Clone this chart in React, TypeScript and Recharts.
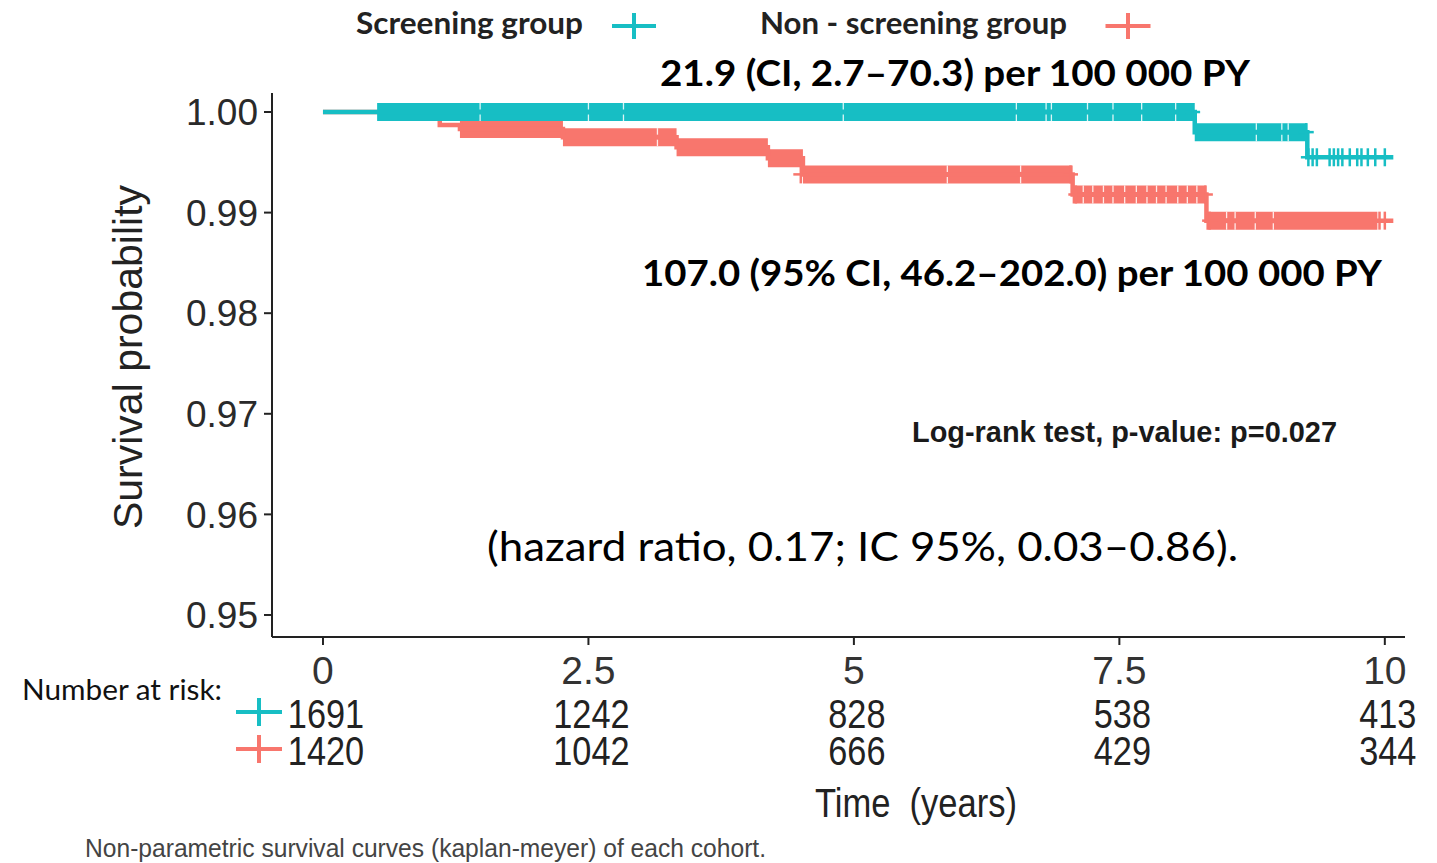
import { ComposedChart, Line, XAxis, YAxis } from 'recharts';

const TEAL = '#17BEC4';
const RED = '#F8766D';
const SANS = "'Liberation Sans', Arial, sans-serif";
const HUMAN = "Lato, 'Open Sans', sans-serif";

// Kaplan-Meier steps: time in years, survival probability
const screeningSteps = [
  { t: 0, s: 1 },
  { t: 8.21, s: 0.998 },
  { t: 9.27, s: 0.9955 },
  { t: 10.08, s: 0.9955 },
];
const nonScreeningSteps = [
  { t: 0, s: 1 },
  { t: 1.1, s: 0.9987 },
  { t: 1.29, s: 0.9983 },
  { t: 2.26, s: 0.9975 },
  { t: 3.33, s: 0.9965 },
  { t: 4.19, s: 0.9954 },
  { t: 4.52, s: 0.9938 },
  { t: 7.06, s: 0.9918 },
  { t: 8.32, s: 0.9892 },
  { t: 10.08, s: 0.9892 },
];

// stretches where the censor marks are so dense they merge: [from, to, level]
const screeningBands: [number, number, number][] = [
  [0.51, 8.21, 1],
  [8.21, 9.27, 0.998],
];
const nonScreeningBands: [number, number, number][] = [
  [1.29, 2.26, 0.9983],
  [2.26, 3.33, 0.9975],
  [3.33, 4.19, 0.9965],
  [4.19, 4.52, 0.9954],
  [4.52, 7.06, 0.9938],
  [7.06, 8.32, 0.9918],
  [8.32, 9.93, 0.9892],
];

// isolated censor marks
const screeningCensored = [
  { t: 8.19, s: 1 },
  { t: 9.26, s: 0.998 },
  { t: 9.28, s: 0.9955 },
  { t: 9.32, s: 0.9955 },
  { t: 9.36, s: 0.9955 },
  { t: 9.48, s: 0.9955 },
  { t: 9.52, s: 0.9955 },
  { t: 9.56, s: 0.9955 },
  { t: 9.6, s: 0.9955 },
  { t: 9.67, s: 0.9955 },
  { t: 9.74, s: 0.9955 },
  { t: 9.78, s: 0.9955 },
  { t: 9.84, s: 0.9955 },
  { t: 9.91, s: 0.9955 },
  { t: 10.0, s: 0.9955 },
];
const nonScreeningCensored = [
  { t: 4.5, s: 0.9938 },
  { t: 7.04, s: 0.9938 },
  { t: 7.09, s: 0.9918 },
  { t: 8.31, s: 0.9918 },
  { t: 8.35, s: 0.9892 },
  { t: 9.95, s: 0.9892 },
  { t: 10.0, s: 0.9892 },
];

// thin white seams visible between neighbouring censor marks inside the bands
const screeningSeams = [
  { t: 1.48, s: 1 },
  { t: 2.5, s: 1 },
  { t: 2.83, s: 1 },
  { t: 4.9, s: 1 },
  { t: 6.53, s: 1 },
  { t: 6.81, s: 1 },
  { t: 6.86, s: 1 },
  { t: 7.2, s: 1 },
  { t: 7.44, s: 1 },
  { t: 7.71, s: 1 },
  { t: 8.03, s: 1 },
  { t: 8.79, s: 0.998 },
  { t: 9.03, s: 0.998 },
  { t: 9.09, s: 0.998 },
];
const nonScreeningSeams = [
  { t: 3.15, s: 0.9975 },
  { t: 5.88, s: 0.9938 },
  { t: 6.57, s: 0.9938 },
  { t: 7.16, s: 0.9918 },
  { t: 7.25, s: 0.9918 },
  { t: 7.35, s: 0.9918 },
  { t: 7.44, s: 0.9918 },
  { t: 7.55, s: 0.9918 },
  { t: 7.66, s: 0.9918 },
  { t: 7.76, s: 0.9918 },
  { t: 7.85, s: 0.9918 },
  { t: 7.94, s: 0.9918 },
  { t: 8.05, s: 0.9918 },
  { t: 8.14, s: 0.9918 },
  { t: 8.23, s: 0.9918 },
  { t: 8.51, s: 0.9892 },
  { t: 8.59, s: 0.9892 },
  { t: 8.78, s: 0.9892 },
  { t: 8.95, s: 0.9892 },
];

const timeTicks = [0, 2.5, 5, 7.5, 10];
const survivalTicks = [0.95, 0.96, 0.97, 0.98, 0.99, 1.0];
const riskScreening = [1691, 1242, 828, 538, 413];
const riskNonScreening = [1420, 1042, 666, 429, 344];

const toBand = (bands: [number, number, number][]) =>
  bands.flatMap(([a, b, s]) => [
    { t: a, s },
    { t: b, s },
    { t: b, s: null },
  ]);

function Plus({ cx, cy, color, w, h, sw }: any) {
  return (
    <g>
      <line x1={cx - w / 2} x2={cx + w / 2} y1={cy} y2={cy} stroke={color} strokeWidth={sw} />
      <line x1={cx} x2={cx} y1={cy - h / 2} y2={cy + h / 2} stroke={color} strokeWidth={sw} />
    </g>
  );
}

const censorDot = (color: string) => (p: any) => (
  <Plus key={`c-${p.index}`} cx={p.cx} cy={p.cy} color={color} w={15} h={18} sw={2.5} />
);

const seamDot = (p: any) => (
  <line
    key={`s-${p.index}`}
    x1={p.cx}
    x2={p.cx}
    y1={p.cy - 9}
    y2={p.cy - 2.5}
    stroke="#fff"
    strokeOpacity={0.85}
    strokeWidth={1.3}
  />
);
const seamDotLow = (p: any) => (
  <line
    key={`sl-${p.index}`}
    x1={p.cx}
    x2={p.cx}
    y1={p.cy + 2.5}
    y2={p.cy + 9}
    stroke="#fff"
    strokeOpacity={0.85}
    strokeWidth={1.3}
  />
);

function TimeTick(props: any) {
  const { x, y, payload, index } = props;
  return (
    <g>
      <text x={x} y={y + 39} textAnchor="middle" fontSize={39} fill="#333" fontFamily={SANS}>
        {payload.value}
      </text>
      <g transform={`translate(${x + 3},${y + 83}) scale(0.88,1.05)`}>
        <text textAnchor="middle" fontSize={39} fill="#222" fontFamily={SANS}>
          {riskScreening[index]}
        </text>
      </g>
      <g transform={`translate(${x + 3},${y + 120}) scale(0.88,1.05)`}>
        <text textAnchor="middle" fontSize={39} fill="#222" fontFamily={SANS}>
          {riskNonScreening[index]}
        </text>
      </g>
    </g>
  );
}

const seamLines = (data: { t: number; s: number }[], key: string) => [
  <Line
    key={`${key}-a`}
    data={data}
    dataKey="s"
    stroke="none"
    dot={seamDot}
    activeDot={false}
    isAnimationActive={false}
  />,
  <Line
    key={`${key}-b`}
    data={data}
    dataKey="s"
    stroke="none"
    dot={seamDotLow}
    activeDot={false}
    isAnimationActive={false}
  />,
];

export default function App() {
  return (
    <div style={{ position: 'absolute', left: 0, top: 0, width: 1437, height: 863, background: '#fff' }}>
      <ComposedChart
        width={1437}
        height={863}
        margin={{ top: 93, right: 32, bottom: 86, left: 172 }}
      >
        <XAxis
          type="number"
          dataKey="t"
          domain={[-0.48, 10.19]}
          ticks={timeTicks}
          interval={0}
          height={140}
          tickSize={8}
          tickMargin={0}
          axisLine={{ stroke: '#222', strokeWidth: 2 }}
          tickLine={{ stroke: '#222', strokeWidth: 2 }}
          tick={<TimeTick />}
        />
        <YAxis
          type="number"
          dataKey="s"
          domain={[0.94781, 1.00189]}
          ticks={survivalTicks}
          interval={0}
          width={100}
          tickSize={8}
          tickMargin={6}
          axisLine={{ stroke: '#222', strokeWidth: 2 }}
          tickLine={{ stroke: '#222', strokeWidth: 2 }}
          tickFormatter={(v: number) => v.toFixed(2)}
          tick={{ fontSize: 37, fill: '#2a2a2a', fontFamily: SANS }}
        />
        <Line
          data={toBand(nonScreeningBands)}
          dataKey="s"
          type="stepAfter"
          stroke={RED}
          strokeWidth={18}
          dot={false}
          activeDot={false}
          connectNulls={false}
          isAnimationActive={false}
        />
        <Line
          data={nonScreeningSteps}
          dataKey="s"
          type="stepAfter"
          stroke={RED}
          strokeWidth={4.5}
          dot={false}
          activeDot={false}
          isAnimationActive={false}
        />
        <Line
          data={nonScreeningCensored}
          dataKey="s"
          stroke="none"
          dot={censorDot(RED)}
          activeDot={false}
          isAnimationActive={false}
        />
        {seamLines(nonScreeningSeams, 'ns')}
        <Line
          data={toBand(screeningBands)}
          dataKey="s"
          type="stepAfter"
          stroke={TEAL}
          strokeWidth={18}
          dot={false}
          activeDot={false}
          connectNulls={false}
          isAnimationActive={false}
        />
        <Line
          data={screeningSteps}
          dataKey="s"
          type="stepAfter"
          stroke={TEAL}
          strokeWidth={4.5}
          dot={false}
          activeDot={false}
          isAnimationActive={false}
        />
        <Line
          data={screeningCensored}
          dataKey="s"
          stroke="none"
          dot={censorDot(TEAL)}
          activeDot={false}
          isAnimationActive={false}
        />
        {seamLines(screeningSeams, 'sc')}
      </ComposedChart>

      <svg
        width={1437}
        height={863}
        style={{ position: 'absolute', left: 0, top: 0, pointerEvents: 'none' }}
      >
        {/* legend */}
        <text x={356} y={34} fontSize={30} fontWeight={700} fill="#222" fontFamily={HUMAN} textLength={227} lengthAdjust="spacingAndGlyphs">
          Screening group
        </text>
        <Plus cx={634} cy={26} color={TEAL} w={44} h={26} sw={4} />
        <text x={760} y={34} fontSize={30} fontWeight={700} fill="#222" fontFamily={HUMAN} textLength={307} lengthAdjust="spacingAndGlyphs">
          Non - screening group
        </text>
        <Plus cx={1128} cy={26} color={RED} w={45} h={26} sw={4} />

        {/* incidence annotations */}
        <text x={660} y={86} fontSize={37} fontWeight={700} fill="#000" fontFamily={HUMAN} textLength={590} lengthAdjust="spacingAndGlyphs">
          21.9 (CI, 2.7–70.3) per 100 000 PY
        </text>
        <text x={642} y={286} fontSize={37} fontWeight={700} fill="#000" fontFamily={HUMAN} textLength={740} lengthAdjust="spacingAndGlyphs">
          107.0 (95% CI, 46.2–202.0) per 100 000 PY
        </text>
        <text x={912} y={442} fontSize={29} fontWeight={700} fill="#1a1a1a" fontFamily={SANS} textLength={425} lengthAdjust="spacingAndGlyphs">
          Log-rank test, p-value: p=0.027
        </text>
        <text x={487} y={561} fontSize={41} fill="#000" fontFamily={HUMAN} textLength={751} lengthAdjust="spacingAndGlyphs">
          (hazard ratio, 0.17; IC 95%, 0.03–0.86).
        </text>

        {/* axis title */}
        <text x={142} y={357} transform="rotate(-90 142 357)" textAnchor="middle" fontSize={41} fill="#222" fontFamily={SANS}>
          Survival probability
        </text>

        {/* number at risk */}
        <text x={22} y={700} fontSize={29} fill="#111" fontFamily={HUMAN} textLength={200} lengthAdjust="spacingAndGlyphs">
          Number at risk:
        </text>
        <Plus cx={259} cy={712} color={TEAL} w={46} h={28} sw={4} />
        <Plus cx={259} cy={749} color={RED} w={46} h={28} sw={4} />

        <text x={815} y={817} fontSize={40} fill="#222" fontFamily={SANS} textLength={202} lengthAdjust="spacingAndGlyphs">
          {'Time\u00A0 (years)'}
        </text>
        <text x={85} y={857} fontSize={25} fill="#444" fontFamily={SANS} textLength={681} lengthAdjust="spacingAndGlyphs">
          Non-parametric survival curves (kaplan-meyer) of each cohort.
        </text>
      </svg>
    </div>
  );
}
